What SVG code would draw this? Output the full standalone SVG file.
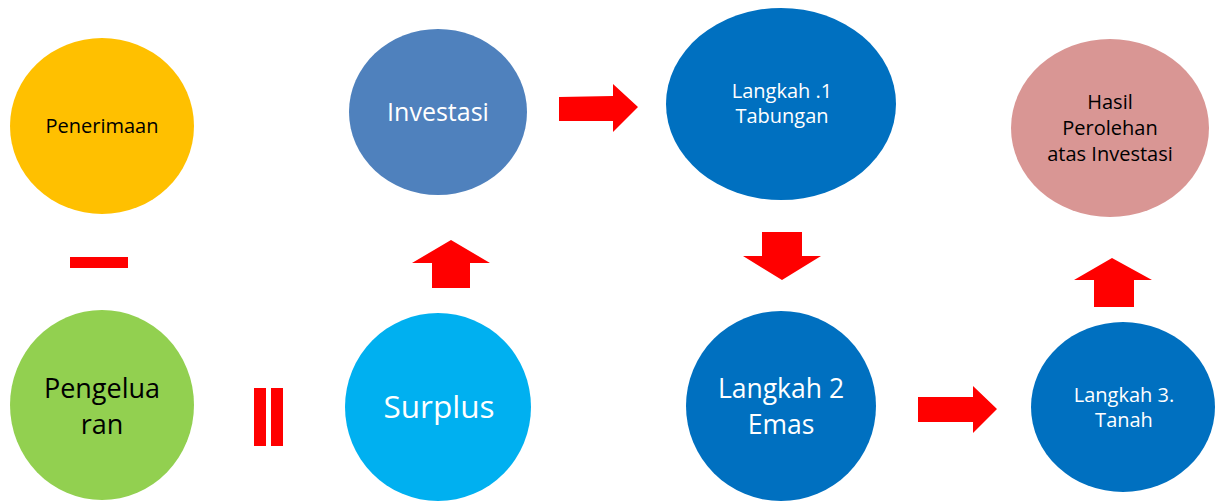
<svg xmlns="http://www.w3.org/2000/svg" width="1215" height="502" viewBox="0 0 1215 502">
<style>
text{font-family:"Open Sans","Noto Sans",sans-serif;text-anchor:middle}
.dk{fill:#000}
.wt{fill:#fff}
.arr{fill:#ff0000}
</style>
<rect width="1215" height="502" fill="#fff"/>
<g id="penerimaan">
<ellipse cx="102" cy="126" rx="92" ry="88" fill="#ffc000"/>
<text x="102" y="133" font-size="20" class="dk">Penerimaan</text>
</g>
<g id="pengeluaran">
<ellipse cx="102" cy="405" rx="92" ry="95" fill="#92d050"/>
<text x="102" y="398" font-size="27" class="dk">Pengelua</text>
<text x="102" y="434" font-size="27" class="dk">ran</text>
</g>
<g id="investasi">
<ellipse cx="438" cy="112" rx="89" ry="83" fill="#4f81bd"/>
<text x="438" y="121" font-size="25" class="wt">Investasi</text>
</g>
<g id="surplus">
<ellipse cx="438" cy="407" rx="93" ry="94" fill="#00b0f0"/>
<text x="439" y="418" font-size="31.5" class="wt">Surplus</text>
</g>
<g id="langkah1">
<ellipse cx="781" cy="104" rx="115" ry="96" fill="#0070c0"/>
<text x="782" y="98" font-size="20" class="wt">Langkah .1</text>
<text x="782" y="123" font-size="20" class="wt">Tabungan</text>
</g>
<g id="langkah2">
<ellipse cx="781" cy="406" rx="95" ry="95" fill="#0070c0"/>
<text x="781" y="398" font-size="26.5" class="wt">Langkah 2</text>
<text x="781" y="434" font-size="26.5" class="wt">Emas</text>
</g>
<g id="langkah3">
<ellipse cx="1123" cy="407" rx="92" ry="85" fill="#0070c0"/>
<text x="1124" y="402" font-size="20" class="wt">Langkah 3.</text>
<text x="1124" y="427" font-size="20" class="wt">Tanah</text>
</g>
<g id="hasil">
<ellipse cx="1110" cy="128" rx="99" ry="89" fill="#d99694"/>
<text x="1110" y="109" font-size="20" class="dk">Hasil</text>
<text x="1110" y="135" font-size="20" class="dk">Perolehan</text>
<text x="1110" y="161" font-size="20" class="dk">atas Investasi</text>
</g>
<g id="connectors">
<rect class="arr" x="70" y="257" width="58" height="11"/>
<rect class="arr" x="254" y="388" width="12" height="58"/>
<rect class="arr" x="271" y="388" width="12" height="58"/>
<polygon class="arr" points="559,97 613,96 613,84 638,107 613,132 613,121 559,121"/>
<polygon class="arr" points="432,288 432,263 412,263 451,240 490,263 470,263 470,288"/>
<polygon class="arr" points="762,232 802,232 802,256 821,256 782,280 743,256 762,256"/>
<polygon class="arr" points="918,397 973,397 973,386 997,409 973,433 973,422 918,422"/>
<polygon class="arr" points="1094,307 1094,280 1074,280 1112,258 1152,280 1134,280 1134,307"/>
</g>
</svg>
